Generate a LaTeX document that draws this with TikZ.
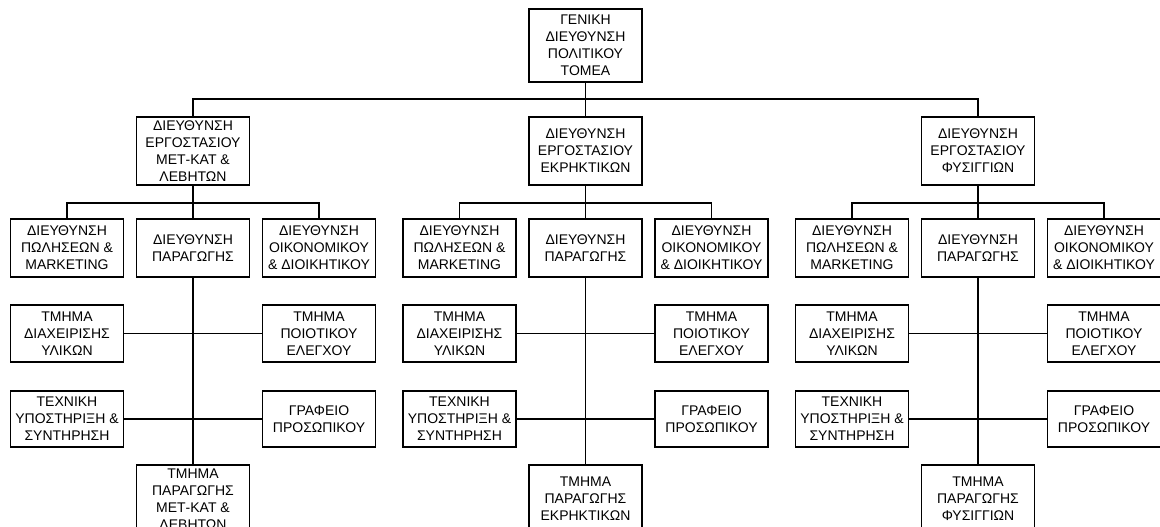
\documentclass[tikz,border=0pt]{standalone}
\usepackage{fontspec}
\setmainfont{Liberation Sans}
\tikzset{
	box/.style={draw,line width=1.5pt,align=center,minimum width=113pt,minimum height=58pt,inner xsep=1pt,inner ysep=0pt,font=\fontsize{14}{17}\selectfont},
	bigbox/.style={box,minimum height=68pt},
	link/.style={line width=1.3pt}
}
\begin{document}
\begin{tikzpicture}[x=1pt,y=-1pt]%ΟΡΓΑΝΟΓΡΑΜΜΑ
		\useasboundingbox (0,0) rectangle (1160,527);
		\clip (0,0) rectangle (1160,527);
		\node[box,minimum height=73pt] (top) at (585.5,45.5) {ΓΕΝΙΚΗ\\ΔΙΕΥΘΥΝΣΗ\\ΠΟΛΙΤΙΚΟΥ\\ΤΟΜΕΑ};
		\node[bigbox] (d1) at (193,151) {ΔΙΕΥΘΥΝΣΗ\\ΕΡΓΟΣΤΑΣΙΟΥ\\ΜΕΤ-ΚΑΤ \&\\ΛΕΒΗΤΩΝ};
		\node[bigbox] (d2) at (585.5,151) {ΔΙΕΥΘΥΝΣΗ\\ΕΡΓΟΣΤΑΣΙΟΥ\\ΕΚΡΗΚΤΙΚΩΝ};
		\node[bigbox] (d3) at (978,151) {ΔΙΕΥΘΥΝΣΗ\\ΕΡΓΟΣΤΑΣΙΟΥ\\ΦΥΣΙΓΓΙΩΝ};
		\node[bigbox,anchor=north] (u1) at (193,464) {ΤΜΗΜΑ\\ΠΑΡΑΓΩΓΗΣ\\ΜΕΤ-ΚΑΤ \&\\ΛΕΒΗΤΩΝ};
		\node[bigbox,anchor=north] (u2) at (585.5,464) {ΤΜΗΜΑ\\ΠΑΡΑΓΩΓΗΣ\\ΕΚΡΗΚΤΙΚΩΝ};
		\node[bigbox,anchor=north] (u3) at (978,464) {ΤΜΗΜΑ\\ΠΑΡΑΓΩΓΗΣ\\ΦΥΣΙΓΓΙΩΝ};
		\coordinate (bus) at (585.5,99);
		\draw[link] (top) -- (d2);
		\draw[link] (d1.north) |- (bus) -| (d3.north);
		\foreach \i/\cx in {1/193,2/585.5,3/978}
		{
		\node[box] (s\i) at (\cx-126,248) {ΔΙΕΥΘΥΝΣΗ\\ΠΩΛΗΣΕΩΝ \&\\MARKETING};
		\node[box] (p\i) at (\cx,248) {ΔΙΕΥΘΥΝΣΗ\\ΠΑΡΑΓΩΓΗΣ};
		\node[box] (e\i) at (\cx+126,248) {ΔΙΕΥΘΥΝΣΗ\\ΟΙΚΟΝΟΜΙΚΟΥ\\\& ΔΙΟΙΚΗΤΙΚΟΥ};
		\node[box,minimum height=57pt] (m\i) at (\cx-126,333.5) {ΤΜΗΜΑ\\ΔΙΑΧΕΙΡΙΣΗΣ\\ΥΛΙΚΩΝ};
		\node[box,minimum height=57pt] (q\i) at (\cx+126,333.5) {ΤΜΗΜΑ\\ΠΟΙΟΤΙΚΟΥ\\ΕΛΕΓΧΟΥ};
		\node[box,minimum height=56pt] (t\i) at (\cx-126,419) {ΤΕΧΝΙΚΗ\\ΥΠΟΣΤΗΡΙΞΗ \&\\ΣΥΝΤΗΡΗΣΗ};
		\node[box,minimum height=56pt] (g\i) at (\cx+126,419) {ΓΡΑΦΕΙΟ\\ΠΡΟΣΩΠΙΚΟΥ};
		\coordinate (b\i) at (\cx,203);
		\draw[link] (d\i) -- (p\i);
		\draw[link] (s\i.north) |- (b\i) -| (e\i.north);
		\draw[link] (p\i) -- (u\i);
		\draw[link] (m\i) -- (q\i);
		\draw[link] (t\i) -- (g\i);
		}
		\end{tikzpicture}
\end{document}
